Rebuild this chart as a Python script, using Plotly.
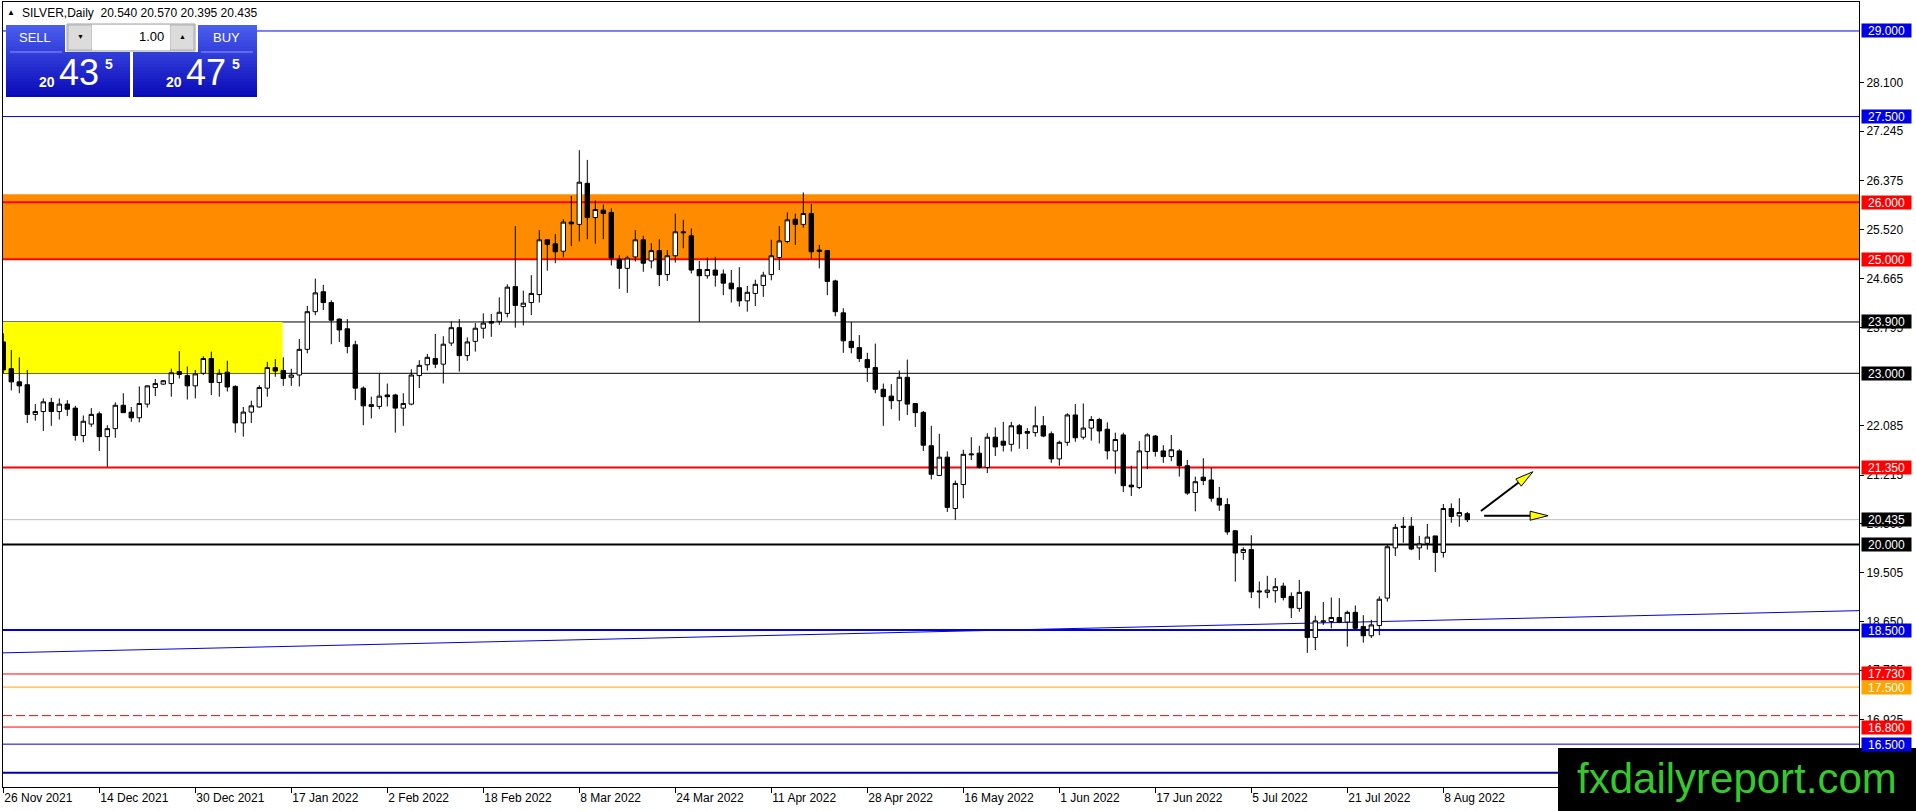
import plotly.graph_objects as go

# ---------------- DATA ----------------
opens = [23.55, 23.08, 22.85, 22.80, 22.28, 22.33, 22.49, 22.33, 22.46, 22.39,
         21.91, 22.11, 22.29, 21.89, 22.03, 22.44, 22.32, 22.22, 22.46, 22.75,
         22.81, 22.82, 23.03, 22.96, 22.78, 23.00, 23.26, 22.84, 23.02, 22.77,
         22.13, 22.32, 22.41, 22.74, 23.10, 23.05, 22.93, 22.97, 23.42, 24.08,
         24.43, 24.24, 23.95, 23.78, 23.50, 22.74, 22.45, 22.42, 22.62, 22.62,
         22.39, 22.46, 22.96, 23.15, 23.26, 23.16, 23.53, 23.80, 23.31, 23.56,
         23.79, 23.906, 23.91, 24.05, 24.52, 24.17, 24.24, 24.38, 25.34, 25.27,
         25.14, 25.65, 25.61, 26.33, 25.73, 25.86, 25.82, 25.00, 24.84, 25.04,
         25.34, 24.97, 25.15, 24.73, 25.06, 25.48, 25.41, 24.82, 24.71, 24.81,
         24.74, 24.58, 24.50, 24.27, 24.40, 24.54, 24.73, 25.03, 25.31, 25.70,
         25.61, 25.80, 25.16, 25.15, 24.62, 24.06, 23.56, 23.45, 23.24, 23.10,
         22.72, 22.60, 22.52, 22.93, 22.47, 22.315, 21.73, 21.21, 21.53, 20.63,
         21.05, 21.57, 21.60, 21.35, 21.88, 21.81, 21.755, 22.08, 21.98, 21.96,
         22.08, 21.94, 21.50, 21.79, 22.27, 21.88, 22.04, 22.19, 22.02, 21.64,
         21.92, 21.04, 21.00, 21.63, 21.90, 21.64, 21.54, 21.64, 21.38, 20.91,
         21.18, 21.13, 20.81, 20.70, 20.24, 19.86, 19.91, 19.185, 19.16, 19.19,
         19.27, 19.09, 18.88, 19.17, 18.37, 18.64, 18.65, 18.72, 18.64, 18.81,
         18.56, 18.40, 18.58, 19.06, 19.94, 20.32, 20.32, 19.94, 20.02, 20.15,
         19.86, 20.63, 20.50, 20.54]
highs = [23.70, 23.41, 23.28, 23.06, 22.46, 22.56, 22.57, 22.56, 22.53, 22.43,
         22.26, 22.39, 22.33, 22.09, 22.49, 22.65, 22.41, 22.77, 22.79, 22.90,
         22.88, 23.08, 23.39, 23.12, 23.06, 23.30, 23.38, 23.07, 23.22, 22.79,
         22.41, 22.52, 22.79, 23.20, 23.25, 23.28, 23.08, 23.60, 24.18, 24.66,
         24.55, 24.28, 23.96, 23.95, 23.57, 22.77, 22.59, 23.00, 22.82, 22.64,
         22.65, 23.07, 23.23, 23.34, 23.69, 23.65, 23.91, 23.95, 23.63, 23.88,
         24.05, 24.04, 24.33, 24.56, 25.58, 24.45, 24.72, 25.51, 25.35, 25.44,
         25.70, 26.11, 26.91, 26.74, 26.03, 25.96, 25.89, 25.07, 25.06, 25.51,
         25.41, 25.28, 25.35, 25.16, 25.80, 25.69, 25.54, 24.97, 25.03, 25.04,
         24.82, 24.81, 24.86, 24.53, 24.64, 24.78, 25.34, 25.58, 25.82, 25.80,
         26.17, 25.97, 25.25, 25.16, 24.64, 24.14, 23.90, 23.67, 23.36, 23.52,
         22.82, 22.81, 23.05, 23.24, 22.48, 22.34, 22.08, 21.94, 21.63, 21.12,
         21.66, 21.88, 21.73, 21.95, 22.05, 22.15, 22.15, 22.11, 22.04, 22.42,
         22.25, 21.98, 21.82, 22.30, 22.46, 22.47, 22.25, 22.22, 22.14, 21.96,
         21.96, 21.38, 21.81, 21.95, 21.92, 21.74, 21.92, 21.67, 21.48, 21.19,
         21.51, 21.34, 21.01, 20.81, 20.25, 19.95, 20.16, 19.35, 19.45, 19.41,
         19.33, 19.16, 19.38, 19.19, 18.75, 18.99, 19.07, 19.06, 18.84, 18.93,
         18.76, 18.68, 19.09, 19.99, 20.36, 20.48, 20.48, 20.15, 20.36, 20.15,
         20.71, 20.72, 20.81, 20.57]
lows = [23.00, 22.70, 22.65, 22.13, 22.17, 21.99, 22.08, 22.19, 22.25, 21.82,
        21.79, 22.06, 21.64, 21.36, 21.87, 22.31, 22.15, 22.14, 22.40, 22.60,
        22.80, 22.59, 22.91, 22.54, 22.56, 22.97, 22.62, 22.59, 22.68, 21.96,
        21.89, 22.13, 22.40, 22.59, 22.94, 22.78, 22.78, 22.77, 23.35, 24.02,
        24.11, 23.51, 23.55, 23.35, 22.53, 22.09, 22.21, 22.37, 22.42, 21.96,
        22.08, 22.44, 22.74, 23.05, 23.09, 22.82, 23.48, 23.03, 23.22, 23.38,
        23.61, 23.64, 23.85, 23.98, 23.80, 23.84, 24.02, 24.24, 24.80, 24.93,
        25.03, 25.23, 25.31, 25.35, 25.27, 25.35, 24.89, 24.48, 24.41, 24.96,
        24.78, 24.84, 24.53, 24.62, 24.94, 25.19, 24.75, 23.90, 24.66, 24.52,
        24.37, 24.24, 24.17, 24.08, 24.18, 24.34, 24.63, 24.81, 25.28, 25.25,
        25.55, 25.01, 24.84, 24.37, 24.00, 23.36, 23.35, 23.20, 22.85, 22.65,
        22.08, 22.37, 22.17, 22.27, 22.06, 21.64, 21.14, 21.20, 20.57, 20.43,
        20.81, 21.48, 21.33, 21.25, 21.55, 21.63, 21.63, 21.68, 21.67, 21.89,
        21.88, 21.43, 21.38, 21.73, 21.80, 21.84, 21.82, 21.77, 21.49, 21.24,
        20.92, 20.85, 20.97, 21.32, 21.54, 21.43, 21.46, 21.19, 20.87, 20.58,
        21.04, 20.75, 20.59, 20.17, 19.35, 19.73, 19.06, 18.88, 19.06, 18.98,
        19.02, 18.71, 18.82, 18.10, 18.15, 18.59, 18.53, 18.62, 18.21, 18.50,
        18.28, 18.36, 18.41, 19.00, 19.80, 20.03, 19.90, 19.73, 19.91, 19.52,
        19.77, 20.38, 20.31, 20.395]
closes = [23.06, 22.85, 22.78, 22.28, 22.33, 22.50, 22.33, 22.46, 22.37, 21.91,
          22.16, 22.28, 21.89, 22.03, 22.44, 22.31, 22.22, 22.47, 22.78, 22.82,
          22.87, 23.01, 22.98, 22.78, 22.99, 23.26, 22.84, 23.00, 22.76, 22.13,
          22.32, 22.43, 22.75, 23.10, 23.04, 22.91, 22.97, 23.42, 24.08, 24.41,
          24.24, 23.93, 23.76, 23.47, 22.74, 22.43, 22.42, 22.60, 22.59, 22.39,
          22.47, 22.97, 23.14, 23.28, 23.16, 23.51, 23.80, 23.31, 23.55, 23.79,
          23.88, 23.88, 24.07, 24.51, 24.19, 24.23, 24.40, 25.34, 25.26, 25.13,
          25.65, 25.62, 26.35, 25.73, 25.87, 25.80, 25.02, 24.84, 25.02, 25.34,
          24.93, 25.15, 24.73, 25.06, 25.48, 25.465, 24.81, 24.71, 24.82, 24.72,
          24.58, 24.48, 24.27, 24.42, 24.56, 24.72, 25.06, 25.32, 25.69, 25.61,
          25.80, 25.13, 25.14, 24.61, 24.08, 23.57, 23.45, 23.26, 23.10, 22.72,
          22.59, 22.52, 22.93, 22.46, 22.31, 21.74, 21.23, 21.53, 20.65, 21.07,
          21.58, 21.585, 21.35, 21.88, 21.71, 21.74, 22.08, 21.94, 21.95, 22.08,
          21.90, 21.50, 21.79, 22.27, 21.87, 22.04, 22.19, 21.99, 21.64, 21.84,
          21.03, 21.01, 21.64, 21.92, 21.63, 21.54, 21.66, 21.38, 20.90, 21.10,
          21.12, 20.81, 20.69, 20.22, 19.85, 19.91, 19.17, 19.17, 19.20, 19.26,
          19.07, 18.89, 19.16, 18.37, 18.66, 18.66, 18.72, 18.64, 18.81, 18.53,
          18.40, 18.59, 19.04, 19.96, 20.30, 20.30, 19.92, 20.01, 20.13, 19.86,
          20.63, 20.49, 20.56, 20.435]

date_labels = ["26 Nov 2021", "14 Dec 2021", "30 Dec 2021", "17 Jan 2022",
               "2 Feb 2022", "18 Feb 2022", "8 Mar 2022", "24 Mar 2022",
               "11 Apr 2022", "28 Apr 2022", "16 May 2022", "1 Jun 2022",
               "17 Jun 2022", "5 Jul 2022", "21 Jul 2022", "8 Aug 2022"]
date_label_bars = [0, 12, 24, 36, 48, 60, 72, 84, 96, 108, 120, 132, 144, 156, 168, 180]

price_ticks = [28.100, 27.245, 26.375, 25.520, 24.665, 23.795, 22.085,
               21.215, 20.360, 19.505, 18.650, 17.795, 16.925]

# horizontal levels (price) and whether a price label is drawn
levels = [29.0, 27.5, 26.0, 25.0, 23.9, 23.0, 21.35, 20.435, 20.0, 18.5,
          17.73, 17.5, 17.0, 16.8, 16.5, 16.0]
level_labelled = [True, True, True, True, True, True, True, True, True, True,
                  True, True, False, True, True, False]

resistance_zone = [25.0, 26.14]   # orange rectangle (price)
support_zone = [23.0, 23.9]       # yellow rectangle (price)
support_zone_end_bar = 34.9
trend_line = [(-0.0375, 18.10), (231.96, 18.84)]  # (bar, price)
arrow_up = [(184.7, 20.586), (191.2, 21.275)]
arrow_flat = [(185.1, 20.504), (193.1, 20.504)]

header_text = "SILVER,Daily  20.540 20.570 20.395 20.435"

# ---------------- STYLES ----------------
BLUE = "#0000e6"
RED = "#ff0000"
level_styles = {
    29.0: (BLUE, 1, "solid", BLUE),
    27.5: (BLUE, 1, "solid", BLUE),
    26.0: (RED, 2, "solid", RED),
    25.0: (RED, 2, "solid", RED),
    23.9: ("#000000", 1, "solid", "#000000"),
    23.0: ("#000000", 1, "solid", "#000000"),
    21.35: (RED, 2, "solid", RED),
    20.435: ("#c0c0c0", 1, "solid", "#000000"),
    20.0: ("#000000", 2, "solid", "#000000"),
    18.5: ("#0000dd", 2, "solid", BLUE),
    17.73: (RED, 1, "solid", RED),
    17.5: ("#ffa500", 1, "solid", "#ffa500"),
    17.0: (RED, 1, "9px,4px", RED),
    16.8: (RED, 1, "solid", RED),
    16.5: (BLUE, 1, "solid", BLUE),
    16.0: ("#0000b0", 2, "solid", BLUE),
}

W, H = 1916, 811
ML, MR, MT, MB = 3, 57, 2, 24
PW, PH = W - ML - MR, H - MT - MB
X_RANGE = [-0.0375, 231.96]
Y_RANGE = [15.749, 29.508]
FONT = "Liberation Sans"


def pxx(x):
    return (x - ML) / PW


def pxy(y):
    return (H - MB - y) / PH


def d2p(b, p):
    x = ML + (b - X_RANGE[0]) / (X_RANGE[1] - X_RANGE[0]) * PW
    y = MT + (Y_RANGE[1] - p) / (Y_RANGE[1] - Y_RANGE[0]) * PH
    return x, y


fig = go.Figure()
fig.add_trace(go.Candlestick(
    x=list(range(len(opens))), open=opens, high=highs, low=lows, close=closes,
    increasing=dict(line=dict(color="black", width=1), fillcolor="white"),
    decreasing=dict(line=dict(color="black", width=1), fillcolor="black"),
    whiskerwidth=0, hoverinfo="skip", showlegend=False))

shapes = []
annotations = []

# zones
shapes.append(dict(type="rect", xref="paper", yref="y", x0=0, x1=1,
                   y0=resistance_zone[0], y1=resistance_zone[1],
                   fillcolor="#ff8c00", line=dict(width=0), layer="below"))
shapes.append(dict(type="rect", xref="x", yref="y", x0=X_RANGE[0], x1=support_zone_end_bar,
                   y0=support_zone[0], y1=support_zone[1],
                   fillcolor="#ffff00", line=dict(width=0), layer="below"))

# levels
for v, lab in zip(levels, level_labelled):
    col, wd, dash, bg = level_styles[v]
    shapes.append(dict(type="line", xref="paper", yref="y", x0=0, x1=1, y0=v, y1=v,
                       line=dict(color=col, width=wd, dash=dash), layer="below"))
    if lab:
        annotations.append(dict(xref="paper", yref="y", x=pxx(1861), y=v,
                                xanchor="left", yanchor="middle", text=f"{v:.3f}",
                                showarrow=False, bgcolor=bg, width=47, height=11,
                                borderpad=1, font=dict(family=FONT, size=12, color="white")))

# trend line
shapes.append(dict(type="line", xref="x", yref="y",
                   x0=trend_line[0][0], y0=trend_line[0][1],
                   x1=trend_line[1][0], y1=trend_line[1][1],
                   line=dict(color=BLUE, width=1), layer="below"))


# arrows (shaft black, head yellow with black outline)
def arrow(tail, tip, head_len=18, half_w=4.5):
    x0, y0 = d2p(*tail)
    x1, y1 = d2p(*tip)
    dx, dy = x1 - x0, y1 - y0
    ln = (dx * dx + dy * dy) ** 0.5
    ux, uy = dx / ln, dy / ln
    bx, by = x1 - head_len * ux, y1 - head_len * uy
    nx, ny = -uy, ux
    shapes.append(dict(type="line", xref="paper", yref="paper",
                       x0=pxx(x0), y0=pxy(y0), x1=pxx(bx), y1=pxy(by),
                       line=dict(color="black", width=2), layer="above"))
    pts = [(x1, y1), (bx + half_w * nx, by + half_w * ny), (bx - half_w * nx, by - half_w * ny)]
    path = "M " + " L ".join(f"{pxx(a):.5f},{pxy(b):.5f}" for a, b in pts) + " Z"
    shapes.append(dict(type="path", xref="paper", yref="paper", path=path,
                       fillcolor="#ffff00", line=dict(color="black", width=1), layer="above"))


arrow(*arrow_up)
arrow(*arrow_flat)


# ---------------- trade panel ----------------
def prect(x0, y0, x1, y1, fill, lc=None, lw=0):
    shapes.append(dict(type="rect", xref="paper", yref="paper",
                       x0=pxx(x0), x1=pxx(x1), y0=pxy(y1), y1=pxy(y0),
                       fillcolor=fill, line=dict(color=lc or fill, width=lw), layer="above"))


def ptext(x, y, text, size, color="white", xanchor="center", bold=False):
    annotations.append(dict(xref="paper", yref="paper", x=pxx(x), y=pxy(y),
                            xanchor=xanchor, yanchor="middle", showarrow=False,
                            text=f"<b>{text}</b>" if bold else text,
                            font=dict(family=FONT, size=size, color=color)))


top_c, bot_c = (74, 94, 238), (8, 8, 182)
y0g, y1g, step = 25, 97, 3
for yy in range(y0g, y1g, step):
    t = (yy - y0g) / (y1g - y0g)
    c = tuple(int(top_c[i] + (bot_c[i] - top_c[i]) * t) for i in range(3))
    col = "rgb(%d,%d,%d)" % c
    prect(6, yy, 130, min(yy + step, y1g), col)
    prect(133, yy, 257, min(yy + step, y1g), col)
prect(65, 23, 198, 52, "white")
prect(67, 24, 195, 51, "#f0f0f0", "#a0a0a0", 1)
prect(68, 25, 92, 50, "#dcdcdc", "#b0b0b0", 1)
prect(170, 25, 194, 50, "#dcdcdc", "#b0b0b0", 1)
prect(92, 25, 170, 50, "white")
shapes.append(dict(type="line", xref="paper", yref="paper", x0=pxx(10), x1=pxx(62),
                   y0=pxy(52), y1=pxy(52), line=dict(color="#8c96ff", width=1), layer="above"))
shapes.append(dict(type="line", xref="paper", yref="paper", x0=pxx(201), x1=pxx(253),
                   y0=pxy(52), y1=pxy(52), line=dict(color="#8c96ff", width=1), layer="above"))

ptext(35, 38, "SELL", 13)
ptext(226, 38, "BUY", 13)
ptext(80, 37, "▼", 7, "black")
ptext(182, 37, "▲", 7, "black")
ptext(166, 37, "1.00", 13, "black", xanchor="right")
for off, big in ((0, "43"), (127, "47")):
    ptext(46.5 + off, 82, "20", 14, bold=True)
    ptext(79 + off, 73, big, 36)
    ptext(108.5 + off, 64, "5", 14, bold=True)

# header
ptext(11, 13, "▲", 8, "black")
ptext(20, 13, header_text, 12, "black", xanchor="left")

# watermark
prect(1558, 748, 1916, 811, "black")
annotations.append(dict(xref="paper", yref="paper", x=pxx(1737), y=pxy(778),
                        xanchor="center", yanchor="middle", showarrow=False,
                        text="fxdailyreport.com",
                        font=dict(family=FONT, size=42, color="#36c92d")))

fig.update_layout(
    width=W, height=H, margin=dict(l=ML, r=MR, t=MT, b=MB, pad=0),
    paper_bgcolor="white", plot_bgcolor="white",
    boxgap=0.45, boxgroupgap=0,
    shapes=shapes, annotations=annotations, showlegend=False,
    font=dict(family=FONT, size=12, color="black"),
    xaxis=dict(range=X_RANGE, rangeslider=dict(visible=False), showgrid=False,
               zeroline=False, showline=True, linecolor="black", linewidth=1, mirror=True,
               tickmode="array", tickvals=date_label_bars, ticktext=date_labels,
               ticks="outside", ticklen=5, tickcolor="black",
               ticklabelposition="outside right",
               tickfont=dict(family=FONT, size=12, color="black"), fixedrange=True),
    yaxis=dict(range=Y_RANGE, side="right", showgrid=False, zeroline=False,
               showline=True, linecolor="black", linewidth=1, mirror=True,
               tickmode="array", tickvals=price_ticks,
               ticktext=[f"{v:.3f}" for v in price_ticks],
               ticks="outside", ticklen=4, tickcolor="black",
               tickfont=dict(family=FONT, size=12, color="black"), fixedrange=True),
)

fig.write_html("out.html", include_plotlyjs=True, full_html=True,
               config=dict(displayModeBar=False),
               post_script="document.body.style.margin='0';document.body.style.overflow='hidden';")
